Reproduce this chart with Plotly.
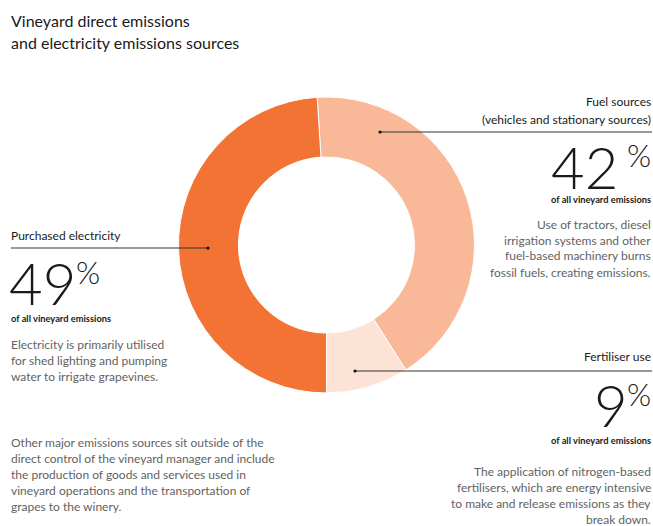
import plotly.graph_objects as go

W, H = 653, 526

categories = ["Fuel sources", "Fertiliser use", "Purchased electricity"]
values = [42, 9, 49]
colors = ["#F9B999", "#FDE2D6", "#F37335"]

title_lines = ["Vineyard direct emissions", "and electricity emissions sources"]
fuel_heading = ["Fuel sources", "(vehicles and stationary sources)"]
fuel_desc = ["Use of tractors, diesel", "irrigation systems and other",
             "fuel-based machinery burns", "fossil fuels, creating emissions."]
elec_heading = ["Purchased electricity"]
elec_desc = ["Electricity is primarily utilised", "for shed lighting and pumping",
             "water to irrigate grapevines."]
fert_heading = ["Fertiliser use"]
fert_desc = ["The application of nitrogen-based", "fertilisers, which are energy intensive",
             "to make and release emissions as they", "break down."]
other_note = ["Other major emissions sources sit outside of the",
              "direct control of the vineyard manager and include",
              "the production of goods and services used in",
              "vineyard operations and the transportation of",
              "grapes to the winery."]
sub_label = "of all vineyard emissions"

FONT = "Lato"
DARK = "#1a1a1a"
GREY = "#626262"


def X(p):
    return p / W


def Y(p):
    return 1 - p / H


fig = go.Figure(go.Pie(
    labels=categories, values=values, sort=False, direction="clockwise",
    rotation=-3.6, hole=0.595,
    marker=dict(colors=colors, line=dict(color="white", width=1)),
    textinfo="none", hoverinfo="label+percent",
    domain=dict(x=[X(178), X(475)], y=[Y(393), Y(97)]),
    showlegend=False,
))

anns = []
shapes = []


def ann(text, x, y, size, color=DARK, xanchor="left", weight=None):
    f = dict(family=FONT, size=size, color=color)
    if weight is not None:
        f["weight"] = weight
    anns.append(dict(text=text, x=X(x), y=Y(y), xref="paper", yref="paper",
                     xanchor=xanchor, yanchor="middle", showarrow=False, font=f))


def leader(x0, x1, y, dot_x):
    shapes.append(dict(type="line", xref="paper", yref="paper",
                       x0=X(x0), x1=X(x1), y0=Y(y), y1=Y(y),
                       line=dict(color="#333333", width=1)))
    r = 1.6
    shapes.append(dict(type="circle", xref="paper", yref="paper",
                       x0=X(dot_x - r), x1=X(dot_x + r), y0=Y(y + r), y1=Y(y - r),
                       fillcolor="#111111", line=dict(width=0)))


BODY = 12
# Title
for i, t in enumerate(title_lines):
    ann(t, 9, 21 + 22 * i, 16)

# Fuel block (right)
RX = 653
for i, t in enumerate(fuel_heading):
    ann(t, RX, 101 + 18.5 * i, BODY, xanchor="right")
leader(380, 652, 132, 380)
ann(str(values[0]), 620, 166.5, 58, xanchor="right", weight=300)
ann("%", RX, 155, 31, xanchor="right", weight=300)
ann(sub_label, RX, 199.5, 9.3, xanchor="right", weight="bold")
for i, t in enumerate(fuel_desc):
    ann(t, RX, 224 + 16 * i, BODY, color=GREY, xanchor="right")

# Electricity block (left)
for i, t in enumerate(elec_heading):
    ann(t, 9, 235, BODY)
leader(11, 208, 248, 208)
ann(str(values[2]), 7, 282.5, 58, weight=300)
ann("%", 74, 272, 31, weight=300)
ann(sub_label, 9, 318.5, 9.3, weight="bold")
for i, t in enumerate(elec_desc):
    ann(t, 9, 344 + 16 * i, BODY, color=GREY)

# Fertiliser block (right)
for i, t in enumerate(fert_heading):
    ann(t, RX, 356, BODY, xanchor="right")
leader(355, 652, 371, 355)
ann(str(values[1]), 630, 404, 58, xanchor="right", weight=300)
ann("%", RX, 394, 31, xanchor="right", weight=300)
ann(sub_label, RX, 440.5, 9.3, xanchor="right", weight="bold")
for i, t in enumerate(fert_desc):
    ann(t, RX, 471 + 16 * i, BODY, color=GREY, xanchor="right")

# Bottom note
for i, t in enumerate(other_note):
    ann(t, 9, 442 + 16 * i, BODY, color=GREY)

fig.update_layout(
    width=W, height=H, margin=dict(l=0, r=0, t=0, b=0),
    paper_bgcolor="white", plot_bgcolor="white",
    annotations=anns, shapes=shapes, showlegend=False,
)

fig.write_html("out.html")
